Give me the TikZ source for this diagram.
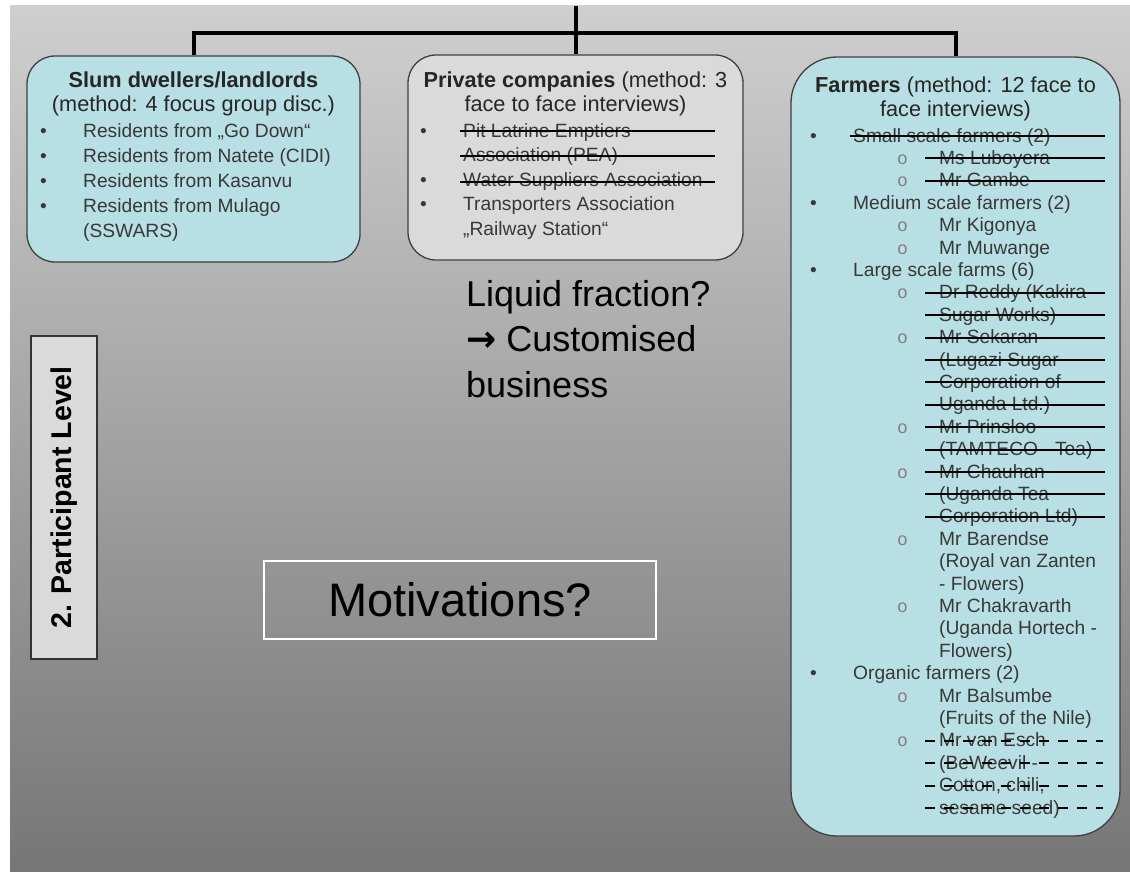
\documentclass[tikz,border=0pt]{standalone}
\usepackage{fontspec}
\setmainfont{Liberation Sans}
\newfontfamily\arrowfont{DejaVu Sans}
\newfontfamily\markfont{Liberation Mono}
\usepackage{xcolor}
\usepackage{tikz}
\usetikzlibrary{positioning}

\definecolor{boxcyan}{RGB}{184,223,227}
\definecolor{boxgrey}{RGB}{218,218,218}
\definecolor{bgtop}{RGB}{207,207,207}
\definecolor{bgmid}{RGB}{158,158,158}
\definecolor{bgbot}{RGB}{118,118,118}

\newcommand{\bul}{\llap{\makebox[43pt][l]{\textbullet}}}
\newcommand{\sbul}{\llap{\makebox[42pt][l]{\color{black!50}\markfont\fontsize{18}{18}\selectfont o}}}
\newcommand{\lvtwo}{\hspace*{86pt}}

\begin{document}
\begin{tikzpicture}[x=1pt, y=-1pt,
    box/.style={draw=black!75, line width=1.3pt, rounded corners=28pt, inner sep=0pt},
    head/.style={anchor=base, align=center, inner sep=0pt, text=black!85, font=\fontsize{21.7}{24.5}\selectfont},
    list/.style={anchor=base west, align=left, inner sep=0pt, text=black!78, font=\fontsize{19.2}{25}\selectfont},
    conn/.style={line width=4pt},
    strike/.style={line width=2pt}
]
    % page and grey background
    \useasboundingbox (0,0) rectangle (1130,872);
    \fill[top color=bgtop, middle color=bgmid, bottom color=bgbot] (10,6) rectangle (1130,872);

    % the three groups
    \node[box, fill=boxcyan, minimum width=333pt, minimum height=206pt] (slum) at (193.5,159) {};
    \node[box, fill=boxgrey, minimum width=335pt, minimum height=205pt] (private) at (575.5,157.5) {};
    \node[box, fill=boxcyan, rounded corners=46pt, minimum width=329pt, minimum height=779pt] (farmers) at (955.5,446.5) {};

    % tree on top
    \coordinate (top) at (575.5,6);
    \coordinate (hub) at (575.5,33);
    \draw[conn] (top) -- (private.north);
    \draw[conn] (slum.north) |- (hub) -| (farmers.north);

    % headings (placed at the baseline of their last line)
    \node[head] (slumhead) at (193.5,112) {\textbf{Slum dwellers/landlords}\\(method: 4 focus group disc.)};
    \node[head] (privatehead) at (575.5,112) {\textbf{Private companies} (method: 3\\face to face interviews)};
    \node[head, font=\fontsize{21.7}{24}\selectfont] (farmershead) at (955.5,117) {\textbf{Farmers} (method: 12 face to\\face interviews)};

    % lists
    \node[list] (slumlist) at (83,237) {\bul Residents from „Go Down“\\
        \bul Residents from Natete (CIDI)\\
        \bul Residents from Kasanvu\\
        \bul Residents from Mulago\\
        (SSWARS)};
    \node[list, font=\fontsize{19.2}{24.6}\selectfont] (privatelist) at (463,235.5) {\bul Pit Latrine Emptiers\\
        Association (PEA)\\
        \bul Water Suppliers Association\\
        \bul Transporters Association\\
        „Railway Station“};
    \node[list, font=\fontsize{19.2}{22.4}\selectfont] (farmerslist) at (853,814) {\bul Small scale farmers (2)\\
        \lvtwo\sbul Ms Luboyera\\
        \lvtwo\sbul Mr Gambe\\
        \bul Medium scale farmers (2)\\
        \lvtwo\sbul Mr Kigonya\\
        \lvtwo\sbul Mr Muwange\\
        \bul Large scale farms (6)\\
        \lvtwo\sbul Dr Reddy (Kakira\\
        \lvtwo Sugar Works)\\
        \lvtwo\sbul Mr Sekaran\\
        \lvtwo (Lugazi Sugar\\
        \lvtwo Corporation of\\
        \lvtwo Uganda Ltd.)\\
        \lvtwo\sbul Mr Prinsloo\\
        \lvtwo (TAMTECO - Tea)\\
        \lvtwo\sbul Mr Chauhan\\
        \lvtwo (Uganda Tea\\
        \lvtwo Corporation Ltd)\\
        \lvtwo\sbul Mr Barendse\\
        \lvtwo (Royal van Zanten\\
        \lvtwo - Flowers)\\
        \lvtwo\sbul Mr Chakravarth\\
        \lvtwo (Uganda Hortech -\\
        \lvtwo Flowers)\\
        \bul Organic farmers (2)\\
        \lvtwo\sbul Mr Balsumbe\\
        \lvtwo (Fruits of the Nile)\\
        \lvtwo\sbul Mr van Esch\\
        \lvtwo (BeWeevil -\\
        \lvtwo Cotton, chili,\\
        \lvtwo sesame seed)};

    % crossed out entries
    \foreach \y in {131.5,156.5,181.5} \draw[strike] (460,\y) -- (715,\y);
    \draw[strike] (850,136) -- (1105,136);
    \foreach \k in {1,2,7,8,9,10,11,12,13,14,15,16,17} \draw[strike] (925,136+22.4*\k) -- (1105,136+22.4*\k);
    \foreach \k in {27,28,29,30} \draw[strike, dash pattern=on 10pt off 9pt] (925,136+22.4*\k) -- (1103,136+22.4*\k);

    % free notes
    \node[anchor=base west, align=left, inner sep=0pt, font=\fontsize{36}{45.5}\selectfont] (liquid) at (466,397) {Liquid fraction?\\{\arrowfont\bfseries →} Customised\\business};
    \node[draw=white, line width=1.5pt, minimum width=392pt, minimum height=78pt, inner sep=0pt, font=\fontsize{47}{50}\selectfont] (motiv) at (460,600) {Motivations?};
    \node[draw=black!80, fill=boxgrey, line width=1.3pt, minimum width=323pt, minimum height=66pt, rotate=90, font=\bfseries\fontsize{28.5}{30}\selectfont] (level) at (64,497.5) {2. Participant Level};
\end{tikzpicture}
\end{document}
